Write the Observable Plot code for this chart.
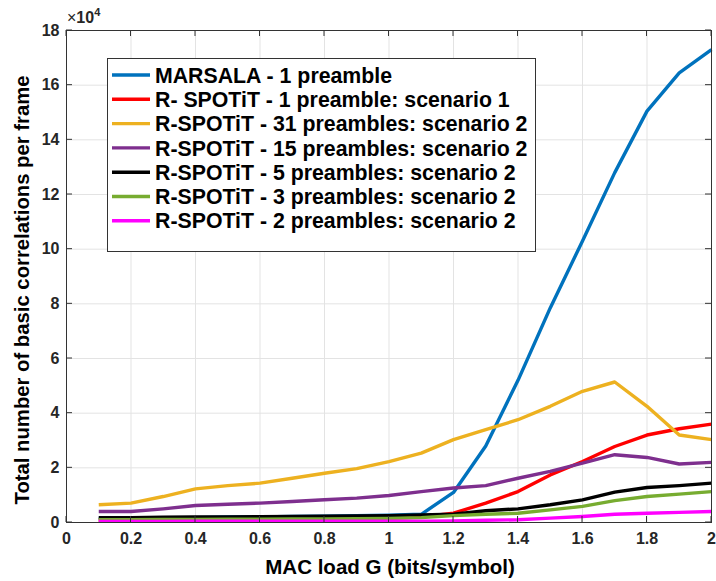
<!DOCTYPE html>
<html><head><meta charset="utf-8">
<script src="https://cdn.jsdelivr.net/npm/d3@7"></script>
<script src="https://cdn.jsdelivr.net/npm/@observablehq/plot@0.6"></script>
<style>body{margin:0;background:#fff;} #chart svg{display:block;}</style>
</head><body><div id="chart"></div>
<script>
// MAC load G (bits/symbol)
const load = [0.1,0.2,0.3,0.4,0.5,0.6,0.7,0.8,0.9,1.0,1.1,1.2,1.3,1.4,1.5,1.6,1.7,1.8,1.9,2.0];
// values in units of 10^4 basic correlations per frame
const marsala1 = [0.15,0.15,0.17,0.18,0.2,0.2,0.22,0.23,0.25,0.27,0.3,1.1,2.8,5.2,7.85,10.3,12.8,15.05,16.45,17.3];
const spotit1  = [0.08,0.08,0.09,0.1,0.1,0.11,0.12,0.13,0.14,0.16,0.2,0.34,0.71,1.13,1.74,2.23,2.78,3.2,3.43,3.6];
const spotit31 = [0.65,0.71,0.95,1.23,1.35,1.44,1.62,1.8,1.97,2.23,2.54,3.03,3.4,3.76,4.25,4.8,5.14,4.25,3.2,3.03];
const spotit15 = [0.4,0.4,0.5,0.62,0.67,0.71,0.77,0.83,0.89,0.99,1.13,1.26,1.35,1.62,1.87,2.17,2.48,2.38,2.14,2.2];
const spotit5  = [0.18,0.18,0.19,0.2,0.2,0.21,0.22,0.23,0.24,0.25,0.28,0.3,0.43,0.5,0.65,0.83,1.11,1.28,1.35,1.44];
const spotit3  = [0.1,0.1,0.11,0.11,0.12,0.12,0.13,0.13,0.14,0.15,0.18,0.25,0.3,0.34,0.46,0.59,0.8,0.95,1.04,1.13];
const spotit2  = [0.04,0.04,0.04,0.05,0.05,0.05,0.05,0.05,0.05,0.05,0.05,0.06,0.08,0.1,0.16,0.22,0.3,0.34,0.37,0.4];

const seriesNames = [
  "MARSALA - 1 preamble",
  "R- SPOTiT - 1 preamble: scenario 1",
  "R-SPOTiT - 31 preambles: scenario 2",
  "R-SPOTiT - 15 preambles: scenario 2",
  "R-SPOTiT - 5 preambles: scenario 2",
  "R-SPOTiT - 3 preambles: scenario 2",
  "R-SPOTiT - 2 preambles: scenario 2"
];
const seriesValues = [marsala1, spotit1, spotit31, spotit15, spotit5, spotit3, spotit2];
const seriesColors = ["#0072BD","#FF0000","#EDB120","#7E2F8E","#000000","#77AC30","#FF00FF"];

const xTicks = [0,0.2,0.4,0.6,0.8,1,1.2,1.4,1.6,1.8,2];
const yTicks = [0,2,4,6,8,10,12,14,16,18];

const rows = seriesValues.flatMap((vals, i) => vals.map((v, j) => ({series: seriesNames[i], G: load[j], v})));

const FONT = "'Liberation Sans', Arial, Helvetica, sans-serif";

const chart = Plot.plot({
  width: 716, height: 581,
  marginLeft: 66, marginRight: 5, marginTop: 30, marginBottom: 59,
  style: {fontFamily: FONT, fontWeight: "bold", fontSize: "16px", color: "#262626", background: "#fff"},
  x: {domain: [0, 2]},
  y: {domain: [0, 18]},
  color: {domain: seriesNames, range: seriesColors},
  marks: [
    Plot.gridX(xTicks, {stroke: "#e3e3e3", strokeOpacity: 1}),
    Plot.gridY(yTicks, {stroke: "#e3e3e3", strokeOpacity: 1}),
    Plot.axisX(xTicks, {tickSize: 0, tickPadding: 10, tickFormat: d => String(+d.toFixed(1)), label: null, fill: "#262626"}),
    Plot.axisY(yTicks, {tickSize: 0, tickPadding: 7, tickFormat: d => String(d), label: null, fill: "#262626"}),
    ...seriesNames.map(name => Plot.line(rows.filter(r => r.series === name), {x: "G", y: "v", stroke: "series", strokeWidth: 3.4, strokeLinejoin: "round", strokeLinecap: "butt"})),
    Plot.frame({stroke: "#333", strokeWidth: 1})
  ]
});

const svg = d3.select(chart);
const sx = chart.scale("x"), sy = chart.scale("y");
const x0 = sx.apply(0), x1 = sx.apply(2), y0 = sy.apply(0), y1 = sy.apply(18);
const g = svg.append("g").attr("stroke", "#333").attr("stroke-width", 1);
xTicks.forEach(t => {
  const px = sx.apply(t);
  g.append("line").attr("x1", px).attr("x2", px).attr("y1", y0).attr("y2", y0 - 6);
  g.append("line").attr("x1", px).attr("x2", px).attr("y1", y1).attr("y2", y1 + 6);
});
yTicks.forEach(t => {
  const py = sy.apply(t);
  g.append("line").attr("y1", py).attr("y2", py).attr("x1", x0).attr("x2", x0 + 6);
  g.append("line").attr("y1", py).attr("y2", py).attr("x1", x1).attr("x2", x1 - 6);
});

// exponent label
const ex = svg.append("text").attr("x", x0 + 1).attr("y", y1 - 7).attr("text-anchor", "start")
  .attr("font-family", FONT).attr("font-size", 16).attr("fill", "#262626").attr("font-weight", "normal");
ex.append("tspan").text("\u00d7");
ex.append("tspan").text("10").attr("font-weight", "bold");
ex.append("tspan").text("4").attr("dy", -7).attr("font-size", 11).attr("font-weight", "bold");

// axis labels
svg.append("text").attr("x", 390).attr("y", 574).attr("text-anchor", "middle")
  .attr("font-family", FONT).attr("font-size", 20.5).attr("font-weight", "bold").attr("fill", "#000")
  .text("MAC load G (bits/symbol)");
svg.append("text").attr("transform", `translate(29,${290}) rotate(-90)`).attr("text-anchor", "middle")
  .attr("font-family", FONT).attr("font-size", 20.3).attr("font-weight", "bold").attr("fill", "#000")
  .text("Total number of basic correlations per frame");

// legend
const lg = svg.append("g");
lg.append("rect").attr("x", 107.5).attr("y", 58.5).attr("width", 428).attr("height", 193)
  .attr("fill", "#fff").attr("stroke", "#333").attr("stroke-width", 1);
seriesNames.forEach((name, i) => {
  const cy = 75 + i * 24.3;
  lg.append("line").attr("x1", 112).attr("x2", 150).attr("y1", cy).attr("y2", cy)
    .attr("stroke", seriesColors[i]).attr("stroke-width", 3.4);
  lg.append("text").attr("x", 155).attr("y", cy).attr("dy", "0.36em").attr("text-anchor", "start")
    .attr("font-family", FONT).attr("font-size", 21.3).attr("font-weight", "bold").attr("fill", "#000")
    .text(name);
});

document.getElementById("chart").appendChild(chart);
</script>
</body></html>
